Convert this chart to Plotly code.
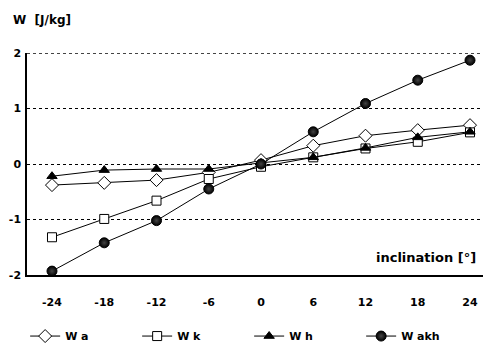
import plotly.graph_objects as go

inclination = [-24, -18, -12, -6, 0, 6, 12, 18, 24]
wa = [-0.38, -0.34, -0.29, -0.15, 0.07, 0.33, 0.51, 0.61, 0.70]
wk = [-1.32, -0.99, -0.66, -0.27, -0.05, 0.12, 0.28, 0.40, 0.57]
wh = [-0.22, -0.11, -0.09, -0.09, 0.02, 0.12, 0.29, 0.48, 0.58]
wakh = [-1.93, -1.42, -1.02, -0.45, 0.00, 0.58, 1.09, 1.51, 1.87]

y_ticks = [-2, -1, 0, 1, 2]
x_ticks = [-24, -18, -12, -6, 0, 6, 12, 18, 24]

FONT = "DejaVu Sans, Arial, sans-serif"

series = [
    ("W a", wa, dict(symbol="diamond", size=10, color="white", line=dict(color="black", width=1))),
    ("W k", wk, dict(symbol="square", size=9, color="white", line=dict(color="black", width=1))),
    ("W h", wh, dict(symbol="triangle-up", size=9, color="black", line=dict(color="black", width=1))),
    ("W akh", wakh, dict(symbol="circle", size=10, color="black", line=dict(color="black", width=1),
                         gradient=dict(type="radial", color="#444"))),
]

fig = go.Figure()
for name, vals, mk in series:
    fig.add_trace(go.Scatter(
        x=inclination, y=vals, name=name, mode="lines+markers",
        line=dict(color="black", width=1), marker=mk,
    ))

# the page body adds an 8px offset; the bottom margin leaves room for the legend
fig.update_layout(
    width=483, height=344,
    margin=dict(l=19, r=0, t=45, b=77),
    paper_bgcolor="white", plot_bgcolor="white",
    font=dict(family=FONT, size=11, color="black", weight="bold"),
    showlegend=True,
    legend=dict(orientation="h", x=-0.004, xanchor="left", y=-0.275, yanchor="middle",
                entrywidth=67, entrywidthmode="pixels",
                font=dict(family=FONT, size=11, weight="bold"), bgcolor="rgba(0,0,0,0)"),
    xaxis=dict(range=[-26.87, 26.41], tickvals=x_ticks, ticktext=[str(v) for v in x_ticks],
               showgrid=False, zeroline=False, showline=True, linecolor="black", linewidth=1.5,
               ticks="", ticklabelstandoff=16, fixedrange=True, automargin=False),
    yaxis=dict(range=[-2, 2], tickvals=y_ticks, ticktext=[str(v) for v in y_ticks],
               showgrid=True, gridcolor="black", griddash="dot", gridwidth=1,
               zeroline=False, showline=True, linecolor="black", linewidth=1.5,
               ticks="", ticklabelstandoff=2, fixedrange=True, automargin=False),
    annotations=[
        dict(text="W  [J/kg]", xref="paper", yref="paper", x=-0.035, y=1.15,
             xanchor="left", yanchor="middle", showarrow=False,
             font=dict(family=FONT, size=12, weight="bold")),
        dict(text="inclination [°]", xref="paper", yref="paper", x=0.972, y=0.081,
             xanchor="right", yanchor="middle", showarrow=False,
             font=dict(family=FONT, size=13, weight="bold")),
    ],
    shapes=[
        dict(type="line", xref="paper", yref="y", x0=0, x1=1, y0=2, y1=2,
             line=dict(color="#444", width=2, dash="dot")),
    ],
)

fig.write_html("out.html")
